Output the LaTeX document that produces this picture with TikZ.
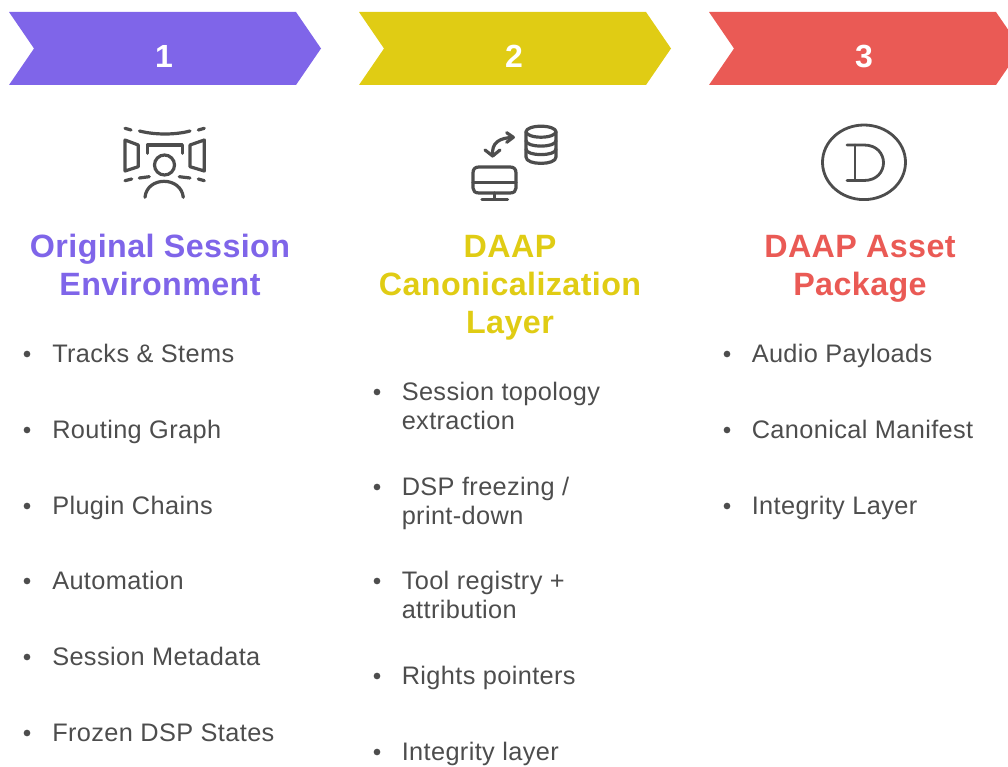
\documentclass[tikz,border=0pt]{standalone}
\usepackage{fontspec}
\setmainfont{Liberation Sans}
\newfontfamily\itmfont[LetterSpace=1.5]{Liberation Sans}
\newfontfamily\ttlfont[LetterSpace=1.2]{Liberation Sans}
\definecolor{cpur}{HTML}{7F65E9}
\definecolor{cyel}{HTML}{E0CC14}
\definecolor{cred}{HTML}{EA5A55}
\definecolor{cgry}{HTML}{4D4D4D}
\tikzset{
 num/.style={text=white,font=\fontsize{24}{24}\selectfont\bfseries,anchor=base},
 ttl/.style={font=\fontsize{24.2}{24.2}\selectfont\ttlfont\bfseries,anchor=base},
 itm/.style={text=cgry,font=\fontsize{19}{19}\selectfont\itmfont,anchor=base west,inner sep=0pt},
 bul/.style={circle,fill=cgry,draw=none,minimum size=5pt,inner sep=0pt},
 ico/.style={draw=cgry,line width=2.4pt,line cap=round,line join=round,fill=none},
 icoN/.style={draw=cgry,line width=2.1pt,line cap=round,line join=round,fill=none},
}
\begin{document}
\begin{tikzpicture}[x=0.75pt,y=-0.75pt]
\useasboundingbox (0,0) rectangle (1008,767);
\clip (0,0) rectangle (1008,767);
\fill[cpur] (9,12)--(296,12)--(321,48.5)--(296,85)--(9,85)--(34,48.5)--cycle;
\fill[cyel] (359,12)--(646,12)--(671,48.5)--(646,85)--(359,85)--(384,48.5)--cycle;
\fill[cred] (709,12)--(996,12)--(1021,48.5)--(996,85)--(709,85)--(734,48.5)--cycle;
\node[num] (n1) at (164,68) {1};
\node[num] (n2) at (514,68) {2};
\node[num] (n3) at (864,68) {3};
% icon 1
\draw[ico] (125,128.3)--(131,130);
\draw[ico] (139.5,131) .. controls (155,135) and (175,135) .. (190,131);
\draw[ico] (198.3,130)--(204.3,128.3);
\draw[ico] (125,140)--(138.3,145)--(138.3,166.7)--(125,171)--cycle;
\draw[ico] (204.3,140)--(190,145)--(190,166.7)--(204.3,171)--cycle;
\draw[ico] (147.3,153.3)--(147.3,145)--(182.3,145)--(182.3,153.3);
\draw[ico] (164.5,165) circle[radius=10];
\draw[ico] (125,180.7)--(131.7,179);
\draw[ico] (139.3,178)--(149.3,176.7);
\draw[ico] (179.3,176.7)--(190,178);
\draw[ico] (198.3,179)--(204.3,180.7);
\draw[ico] (145,197.3) .. controls (147,176) and (181,176) .. (183.3,197.3);
% icon 2
\draw[ico] (492.7,156) .. controls (491,142) and (500,138) .. (513,137.3);
\draw[ico] (485,150)--(492.7,156)--(500,150);
\draw[ico] (506.7,132.7)--(513.3,137.3)--(506.7,142.3);
\draw[ico] (526,131.7) -- (526,157) .. controls (526,165.5) and (556,165.5) .. (556,157) -- (556,131.7);
\draw[ico] (541,131.7) ellipse[x radius=15,y radius=5.5];
\draw[ico] (526,140.5) .. controls (526,148) and (556,148) .. (556,140.5);
\draw[ico] (526,149) .. controls (526,156.5) and (556,156.5) .. (556,149);
\draw[ico] (479,167) -- (510,167) .. controls (514,167) and (516,169) .. (516,173) -- (516,188) .. controls (516,191) and (514,193) .. (510,193) -- (479,193) .. controls (475,193) and (473,191) .. (473,188) -- (473,173) .. controls (473,169) and (475,167) .. (479,167) -- cycle;
\draw[ico] (473,182.5)--(516,182.5);
\draw[ico] (494.5,193)--(494.5,199);
\draw[ico] (482,199.3)--(507.5,199.3);
% icon 3
\draw[icoN] (864,162.3) ellipse[x radius=41.5,y radius=37.3];
\draw[icoN] (847,145)--(864,145) .. controls (890,145) and (890,180.5) .. (864,180.5) -- (847,180.5);
\draw[icoN] (855,145)--(855,180.5);
% titles
\node[ttl,text=cpur] (t11) at (160,257.5) {Original Session};
\node[ttl,text=cpur] (t12) at (160,295.5) {Environment};
\node[ttl,text=cyel] (t21) at (510,257.5) {DAAP};
\node[ttl,text=cyel] (t22) at (510,295.5) {Canonicalization};
\node[ttl,text=cyel] (t23) at (510,333.5) {Layer};
\node[ttl,text=cred] (t31) at (860,257.5) {DAAP Asset};
\node[ttl,text=cred] (t32) at (860,295.5) {Package};
% column 1
\foreach \yy/\tt in {362/{Tracks \& Stems},438/{Routing Graph},514/{Plugin Chains},589/{Automation},665/{Session Metadata},741/{Frozen DSP States}}{
 \node[itm] at (52,\yy) {\tt};
 \node[bul] at (27,\yy-8) {};
}
% column 2
\foreach \yy/\tt in {400/{Session topology},429/{extraction},495/{DSP freezing /},524/{print-down},589/{Tool registry +},618/{attribution},684/{Rights pointers},760/{Integrity layer}}{
 \node[itm] at (401.5,\yy) {\tt};
}
\foreach \yy in {392,487,581,676,752}{\node[bul] at (377,\yy) {};}
% column 3
\foreach \yy/\tt in {362/{Audio Payloads},438/{Canonical Manifest},514/{Integrity Layer}}{
 \node[itm] at (751.5,\yy) {\tt};
 \node[bul] at (727,\yy-8) {};
}
\end{tikzpicture}
\end{document}
